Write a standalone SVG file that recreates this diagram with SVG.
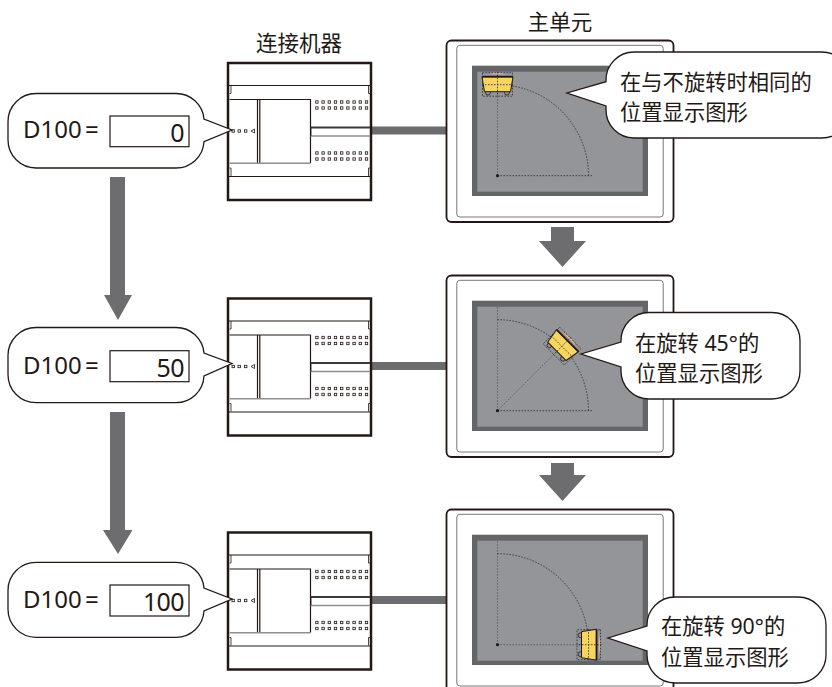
<svg xmlns="http://www.w3.org/2000/svg" width="832" height="687" viewBox="0 0 832 687">
<style>
text{font-family:"Noto Sans","Noto Sans CJK SC",sans-serif;fill:#231815}
.lab{font-size:21.5px;text-anchor:middle}
.t{font-size:21.3px}
.d{font-size:24px}
.v{font-size:25px;text-anchor:end;letter-spacing:-.6px}
.co{fill:#fff;stroke:#231815;stroke-width:1.3;stroke-linejoin:miter}
.box{fill:#fff;stroke:#231815;stroke-width:1.2}
.bar{fill:#6d6d70}
.k{fill:none;stroke:#231815;stroke-width:1.2}
.gr{fill:none;stroke:#8f8f90;stroke-width:1.6}
.p{fill:none;stroke:#231815;stroke-width:.8}
.dash{fill:none;stroke:#2b2b2b;stroke-width:.8;stroke-dasharray:1.6 1.4}
.dashg{fill:none;stroke:#555;stroke-width:.8;stroke-dasharray:1.6 1.4}
.sq{fill:#fff;stroke:#231815;stroke-width:.8}
</style>
<defs>
<g id="row">
<rect class="sq" x="315.700" y="-1.200" width="2.400" height="2.400"/><rect class="sq" x="321.900" y="-1.200" width="2.400" height="2.400"/><rect class="sq" x="328.100" y="-1.200" width="2.400" height="2.400"/><rect class="sq" x="334.300" y="-1.200" width="2.400" height="2.400"/><rect class="sq" x="340.500" y="-1.200" width="2.400" height="2.400"/><rect class="sq" x="346.700" y="-1.200" width="2.400" height="2.400"/><rect class="sq" x="352.900" y="-1.200" width="2.400" height="2.400"/><rect class="sq" x="359.100" y="-1.200" width="2.400" height="2.400"/><rect class="sq" x="365.300" y="-1.200" width="2.400" height="2.400"/>
</g>
<g id="plc">
<rect x="228" y="63" width="143" height="137" fill="#fff" stroke="#231815" stroke-width="2.500"/>
<path class="k" d="M229 85.500H370M229 176.500H370"/>
<path class="p" d="M231 85.500V93.500H229.500M368.500 85.500V93.500H370M231 176V168H229.500M368.500 176V168H370"/>
<path class="k" d="M229.500 99.500H310.500V163M257.500 99.500V163M259.800 99.500V163"/>
<path class="gr" d="M229.500 163.200H310.500"/>
<path d="M310.500 127.500H370" fill="none" stroke="#3a3a3a" stroke-width="2"/>
<path class="gr" d="M310.500 136H370" stroke-width="2"/>
<path class="p" d="M311 127.500V136"/>
<use href="#row" y="102"/><use href="#row" y="108"/><use href="#row" y="153"/><use href="#row" y="159"/>
<rect class="sq" x="232" y="129.800" width="2.400" height="2.400"/><rect class="sq" x="238" y="129.800" width="2.400" height="2.400"/><rect class="sq" x="244.500" y="129.800" width="2.400" height="2.400"/>
<path class="p" d="M254.500 129L251 131L254.500 133Z"/>
</g>
<g id="hmi">
<rect x="446.500" y="40.500" width="227" height="181.500" rx="5" fill="#fff" stroke="#231815" stroke-width="1.800"/>
<rect x="456.800" y="45.300" width="206.400" height="171.700" rx="3" fill="#fff" stroke="#77787a" stroke-width="1"/>
<rect x="472" y="65.700" width="176" height="130.300" fill="#646567"/>
<rect x="477.300" y="71.700" width="165.400" height="120" fill="#949598"/>
</g>
<g id="guide">
<path class="dashg" d="M497.500 175.700V71.500"/>
<path class="dash" d="M497.500 84.700A91 91 0 0 1 588.500 175.700"/>
</g>
<g id="hand">
<path d="M-9 -10.500Q0 -13.500 9 -10.500Z" fill="#e8b79a"/>
<circle class="p" cx="-9.500" cy="8" r="2.400"/>
<circle class="p" cx="9.500" cy="8" r="2.400"/>
<path d="M-15.500 -8H15.500L13 7H-13Z" fill="#f7d560" stroke="#231815" stroke-width="1"/>
<path d="M-15.500 -8H15.500" stroke="#231815" stroke-width="1.800"/>
<rect class="dash" x="-15" y="-12" width="30" height="23.500"/>
<path class="dash" d="M0 -13V11.500M-15.500 0H15.500"/>
</g>
</defs>

<g id="label-device"><text class="lab" x="299" y="51">连接机器</text></g>
<g id="label-main"><text class="lab" x="560" y="30">主单元</text></g>

<g id="connectors">
<path class="bar" d="M371 126.500H446V134.500H371ZM371 362H446V370H371ZM371 596H446V604H371Z"/>
<path class="bar" d="M110 177H125V295H132L118 320L104 295H110Z"/>
<path class="bar" d="M110 412H125V530H132.500L118 554L103 530H110Z"/>
<path class="bar" d="M551 227H574V241H586L562.500 267L539 241H551Z"/>
<path class="bar" d="M551 463H574V475H586L562.500 501L539 475H551Z"/>
</g>

<g id="plc-1"><use href="#plc"/></g>
<g id="plc-2"><use href="#plc" y="235.500"/></g>
<g id="plc-3"><use href="#plc" y="469.500"/></g>

<g id="hmi-1">
<use href="#hmi"/>
<use href="#guide"/>
<path class="dash" d="M497.500 175.700H593"/>
<circle cx="497.500" cy="175.700" r="1.600" fill="#231815"/>
<use href="#hand" transform="translate(497.500 84.700)"/>
</g>
<g id="hmi-2">
<use href="#hmi" y="235"/>
<use href="#guide" y="235"/>
<path class="dash" d="M497.500 410.700H593"/>
<path class="dashg" d="M497.500 410.700L568 340"/>
<circle cx="497.500" cy="410.700" r="1.600" fill="#231815"/>
<use href="#hand" transform="rotate(45 497.500 410.700) translate(497.500 319.700)"/>
</g>
<g id="hmi-3">
<use href="#hmi" y="469"/>
<use href="#guide" y="469"/>
<path class="dashg" d="M497.500 644.700H593"/>
<circle cx="497.500" cy="644.700" r="1.600" fill="#231815"/>
<use href="#hand" transform="rotate(90 497.500 644.700) translate(497.500 553.700)"/>
</g>

<g id="callout-d100-0">
<path class="co" d="M36 93.500H176A28 28 0 0 1 204 119L232 130L204 141.700A28 28 0 0 1 176 168H36A28 28 0 0 1 8 140V121.500A28 28 0 0 1 36 93.500Z"/>
<text class="d" x="23" y="138.300">D100</text><text class="d" x="85" y="138.300">=</text>
<rect class="box" x="110" y="116" width="79" height="30.700"/>
<text class="v" x="184" y="141.700">0</text>
</g>
<g id="callout-d100-50">
<path class="co" d="M36 327.500H176A28 28 0 0 1 204 353L232 363.500L204 376A28 28 0 0 1 176 402.700H36A28 28 0 0 1 8 374.700V355.500A28 28 0 0 1 36 327.500Z"/>
<text class="d" x="23" y="374.300">D100</text><text class="d" x="85" y="374.300">=</text>
<rect class="box" x="110" y="350.700" width="79" height="31"/>
<text class="v" x="184" y="376.700">50</text>
</g>
<g id="callout-d100-100">
<path class="co" d="M36 562.300H176A28 28 0 0 1 204 588L232 599L204 611A28 28 0 0 1 176 637.300H36A28 28 0 0 1 8 609.300V590.300A28 28 0 0 1 36 562.300Z"/>
<text class="d" x="23" y="607.700">D100</text><text class="d" x="85" y="607.700">=</text>
<rect class="box" x="110" y="585" width="79" height="31"/>
<text class="v" x="184" y="610.700">100</text>
</g>

<g id="callout-same">
<path class="co" d="M634 52H822A28 28 0 0 1 850 80V110A28 28 0 0 1 822 138H634A28 28 0 0 1 606 110V106L567 93L606 81.700V80A28 28 0 0 1 634 52Z"/>
<text class="t" x="620" y="89.500">在与不旋转时相同的</text>
<text class="t" x="620" y="120">位置显示图形</text>
</g>
<g id="callout-45">
<path class="co" d="M649 312.500H772A28 28 0 0 1 800 340.500V371A28 28 0 0 1 772 399H649A28 28 0 0 1 621 371V367L581 354L621 342V340.500A28 28 0 0 1 649 312.500Z"/>
<text class="t" x="635" y="351">在旋转 45°的</text>
<text class="t" x="635" y="381">位置显示图形</text>
</g>
<g id="callout-90">
<path class="co" d="M675 597H798A28 28 0 0 1 826 625V655A28 28 0 0 1 798 683H675A28 28 0 0 1 647 655V651L608 638L647 626V625A28 28 0 0 1 675 597Z"/>
<text class="t" x="661" y="634">在旋转 90°的</text>
<text class="t" x="661" y="665">位置显示图形</text>
</g>
</svg>
